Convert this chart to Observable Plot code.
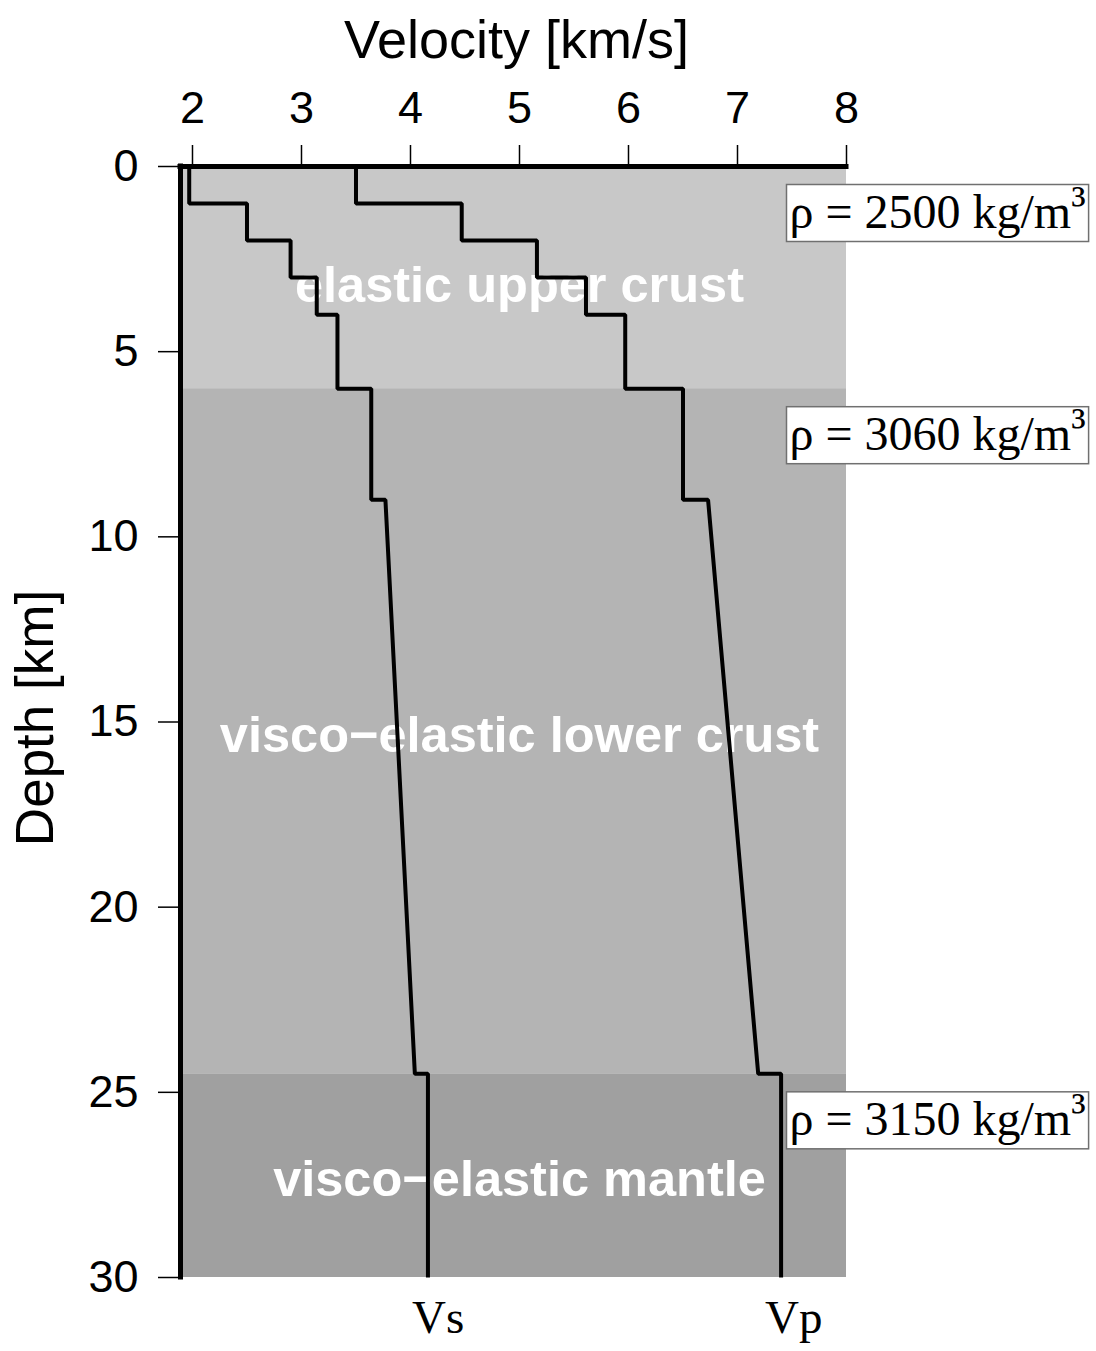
<!DOCTYPE html>
<html><head><meta charset="utf-8">
<script src="https://cdn.jsdelivr.net/npm/d3@7"></script>
<script src="https://cdn.jsdelivr.net/npm/@observablehq/plot@0.6"></script>
<style>html,body{margin:0;padding:0;background:#fff;} svg{display:block}</style>
</head><body>
<div id="chart"></div>
<script>
// ---- data ----
const layerNames = ["elastic upper crust", "visco\u2212elastic lower crust", "visco\u2212elastic mantle"];
const layerTop = [0, 6, 24.5];
const layerBottom = [6, 24.5, 30];
const layerColor = ["#c8c8c8", "#b4b4b4", "#a0a0a0"];
const layerDensity = [2500, 3060, 3150];
const layerLabelDepth = [3.67, 15.8, 27.79];

const stepTop = [0, 1, 2, 3, 4, 6, 9, 24.5];
const stepBottom = [1, 2, 3, 4, 6, 9, 24.5, 30];
const vsTop = [1.97, 2.50, 2.90, 3.14, 3.33, 3.64, 3.77, 4.16];
const vsBottom = [1.97, 2.50, 2.90, 3.14, 3.33, 3.64, 4.04, 4.16];
const vpTop = [3.50, 4.47, 5.16, 5.61, 5.97, 6.50, 6.73, 7.40];
const vpBottom = [3.50, 4.47, 5.16, 5.61, 5.97, 6.50, 7.19, 7.40];

const xTicks = [2, 3, 4, 5, 6, 7, 8];
const yTicks = [0, 5, 10, 15, 20, 25, 30];
const xDomain = [1.89, 8];
const yDomain = [0, 30];
const xTitle = "Velocity [km/s]";
const yTitle = "Depth [km]";

// ---- tables built from the arrays ----
const layers = layerNames.map((name, i) => ({
  name, top: layerTop[i], bottom: layerBottom[i], color: layerColor[i],
  density: layerDensity[i], labelDepth: layerLabelDepth[i]
}));
function profile(wave, top, bottom) {
  const pts = [];
  stepTop.forEach((d, i) => {
    pts.push({wave, v: top[i], depth: d});
    pts.push({wave, v: bottom[i], depth: stepBottom[i]});
  });
  return pts;
}
const profiles = [...profile("Vs", vsTop, vsBottom), ...profile("Vp", vpTop, vpBottom)];
const waveLabels = [
  {wave: "Vs", v: vsBottom[vsBottom.length - 1], depth: stepBottom[stepBottom.length - 1]},
  {wave: "Vp", v: vpBottom[vpBottom.length - 1], depth: stepBottom[stepBottom.length - 1]}
];

const SANS = "Liberation Sans, Arial, Helvetica, sans-serif";
const SERIF = "Liberation Serif, Times New Roman, serif";

const svg = Plot.plot({
  width: 1096,
  height: 1351,
  marginLeft: 180,
  marginRight: 250,
  marginTop: 166,
  marginBottom: 74,
  style: {background: "white", overflow: "visible"},
  x: {domain: xDomain, label: null},
  y: {domain: yDomain, reverse: true, label: null},
  color: {type: "identity"},
  marks: [
    Plot.rect(layers, {y1: "top", y2: "bottom", fill: "color"}),
    Plot.text(layers, {
      y: "labelDepth", text: "name", fill: "white", fontWeight: "bold",
      fontSize: 50.5, fontFamily: SANS, lineAnchor: "bottom", dx: 6
    }),
    Plot.line(profiles, {
      x: "v", y: "depth", z: "wave", stroke: "black", strokeWidth: 4,
      strokeLinejoin: "miter", strokeLinecap: "butt"
    }),
    Plot.ruleX([xDomain[0]], {stroke: "black", strokeWidth: 5, strokeLinecap: "square"}),
    Plot.ruleY([yDomain[0]], {stroke: "black", strokeWidth: 5, strokeLinecap: "square"}),
    Plot.axisX(xTicks, {
      anchor: "top", tickSize: 22, tickPadding: 22, fontSize: 45,
      fontFamily: SANS, strokeWidth: 1.5, label: null, fill: "black"
    }),
    Plot.axisY(yTicks, {
      anchor: "left", tickSize: 22, tickPadding: 20, fontSize: 45,
      fontFamily: SANS, strokeWidth: 1.5, label: null, fill: "black"
    }),
    Plot.text(layers, {
      y: "top", text: d => `ρ = ${d.density} kg/m³`, frameAnchor: "right",
      textAnchor: "start", lineAnchor: "bottom", dx: -57, dy: 61,
      fontFamily: SERIF, fontSize: 48, fill: "black"
    }),
    Plot.text(waveLabels, {
      x: "v", y: "depth", text: "wave", textAnchor: "start", lineAnchor: "bottom",
      dx: -16, dy: 55, fontFamily: SERIF, fontSize: 47, fill: "black"
    }),
    Plot.text([xTitle], {
      text: d => d, frameAnchor: "top", lineAnchor: "bottom", dy: -109, dx: 3,
      fontFamily: SANS, fontSize: 54, fill: "black"
    }),
    Plot.text([yTitle], {
      text: d => d, frameAnchor: "left", textAnchor: "middle", rotate: -90, lineAnchor: "bottom",
      dx: -128, dy: -4, fontFamily: SANS, fontSize: 53, fill: "black"
    })
  ]
});
document.getElementById("chart").append(svg);

// white framed boxes behind the density labels, and a raised superscript
const NS = "http://www.w3.org/2000/svg";
for (const t of svg.querySelectorAll("text")) {
  if (!t.textContent.startsWith("ρ")) continue;
  const b = t.getBBox();
  const r = document.createElementNS(NS, "rect");
  r.setAttribute("x", b.x - 3);
  r.setAttribute("y", b.y);
  r.setAttribute("width", b.width + 6);
  r.setAttribute("height", b.height + 4);
  r.setAttribute("fill", "white");
  r.setAttribute("stroke", "#707070");
  r.setAttribute("stroke-width", 1.5);
  const tr = t.getAttribute("transform");
  if (tr) r.setAttribute("transform", tr);
  t.parentNode.insertBefore(r, t);
  const full = t.textContent;
  const base = full.slice(0, -1);
  t.textContent = base;
  const sup = document.createElementNS(NS, "tspan");
  sup.setAttribute("dy", "-0.18em");
  sup.textContent = full.slice(-1);
  t.appendChild(sup);
}
</script>
</body></html>
